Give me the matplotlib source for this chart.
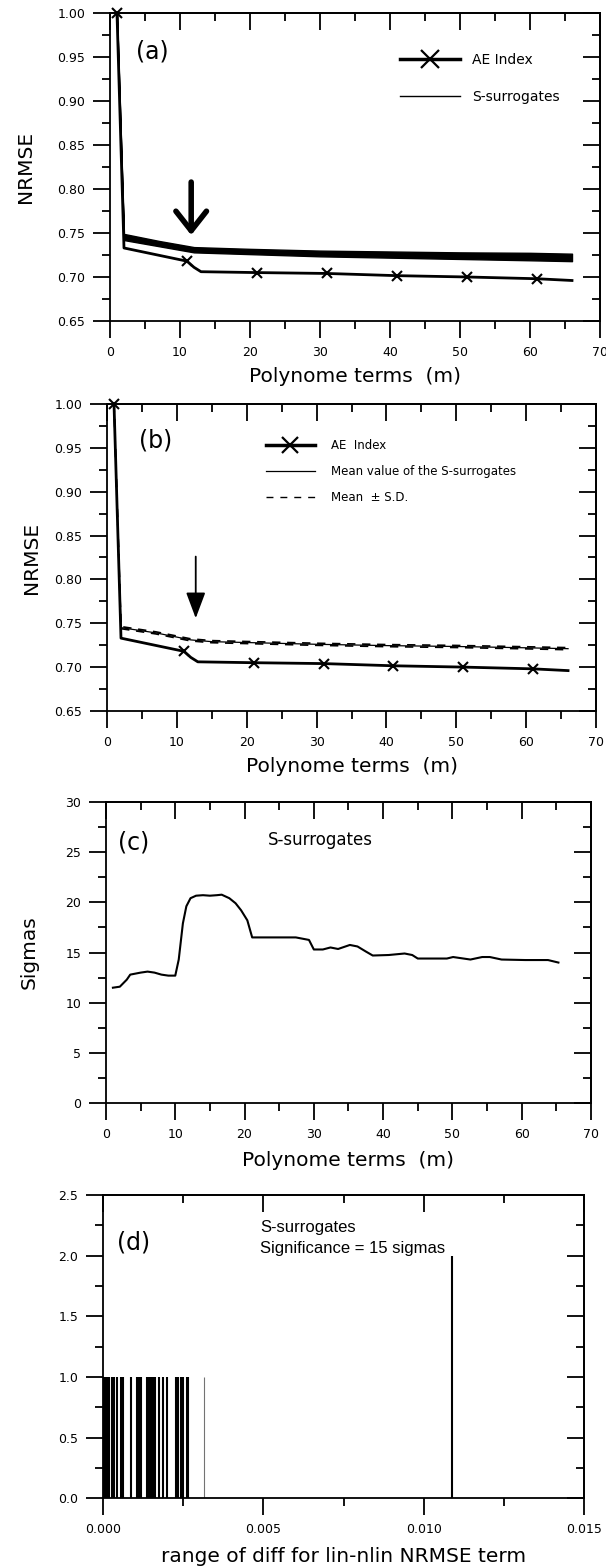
import matplotlib
matplotlib.use("Agg")
import matplotlib.pyplot as plt
from matplotlib.ticker import MultipleLocator, FormatStrFormatter
from matplotlib.lines import Line2D

plt.rcParams['font.family'] = ['DejaVu Sans']

# ---------------- data ----------------
# AE index NRMSE vs number of polynome terms (panels a, b)
m_ae = [1, 2, 11, 12, 13, 21, 31, 41, 51, 61, 66]
nrmse_ae = [1.0, 0.733, 0.718, 0.711, 0.706, 0.705, 0.704, 0.7015, 0.700, 0.698, 0.696]
ae_marker_idx = [0, 2, 5, 6, 7, 8, 9]

# S-surrogates envelope (panel a)
m_sur = [1, 2, 7, 12, 20, 30, 40, 50, 60, 66]
sur_upper = [1.0, 0.749, 0.741, 0.734, 0.732, 0.730, 0.729, 0.728, 0.7275, 0.7265]
sur_lower = [1.0, 0.742, 0.735, 0.728, 0.726, 0.7235, 0.722, 0.7205, 0.719, 0.718]

# mean and S.D. of surrogates (panel b)
m_mean = [1, 2, 7, 12, 15, 20, 30, 40, 50, 60, 66]
mean_sur = [1.0, 0.745, 0.739, 0.731, 0.729, 0.728, 0.726, 0.7245, 0.7235, 0.722, 0.721]
sd_sur = [0.0, 0.0012, 0.0012, 0.0012, 0.0012, 0.0012, 0.0012, 0.0012, 0.0012, 0.0012, 0.0012]

# significance in sigmas (panel c)
m_sig = [1, 2, 3, 3.5, 5, 6, 7, 8, 9, 10, 10.5, 11.1, 11.6, 12.2, 13, 14, 15, 16, 16.7,
         17.8, 18.7, 19.5, 20.4, 21.1, 24, 27.4, 29.3, 30, 31.3, 32.4, 33.5, 35.2, 36.3,
         37.5, 38.5, 40.8, 43.1, 44.2, 45, 49.2, 50.1, 52.6, 54.3, 55.4, 57.1, 60.5, 63.8, 65.3]
sigmas = [11.5, 11.6, 12.3, 12.8, 13.0, 13.1, 13.0, 12.8, 12.7, 12.7, 14.3, 17.9, 19.6, 20.4,
          20.65, 20.7, 20.65, 20.7, 20.75, 20.4, 19.9, 19.2, 18.2, 16.5, 16.5, 16.5, 16.25,
          15.3, 15.3, 15.5, 15.35, 15.75, 15.6, 15.1, 14.7, 14.75, 14.9, 14.75, 14.4, 14.4,
          14.55, 14.3, 14.55, 14.55, 14.3, 14.25, 14.25, 14.0]

# histogram of differences (panel d)
diff_x = [0.00002, 0.00006, 0.0001, 0.00014, 0.00018, 0.00027, 0.00035, 0.00043, 0.00055,
          0.00059, 0.00063, 0.00087, 0.00107, 0.00113, 0.00118, 0.00136, 0.0014, 0.00144,
          0.00148, 0.00152, 0.00156, 0.0016, 0.00163, 0.00175, 0.00186, 0.00198, 0.00228,
          0.00235, 0.00242, 0.0025, 0.00262, 0.00265, 0.01087]
diff_n = [1] * 32 + [2]
diff_x_faint = [0.00314]
diff_n_faint = [1]

# ---------------- figure ----------------
fig = plt.figure(figsize=(6.06, 15.67), dpi=100)
ax_a = fig.add_axes([0.1815, 0.7952, 0.8086, 0.1963])
ax_b = fig.add_axes([0.1766, 0.5463, 0.8069, 0.1959])
ax_c = fig.add_axes([0.1749, 0.2959, 0.8003, 0.1925])
ax_d = fig.add_axes([0.1700, 0.0438, 0.7937, 0.1936])

MAJ, MIN, W = 12.2, 5.8, 1.3


def style(ax, xlim, ylim, xmaj, xmin, ymaj, ymin, xfmt, yfmt):
    ax.set_xlim(*xlim)
    ax.set_ylim(*ylim)
    ax.xaxis.set_major_locator(MultipleLocator(xmaj))
    ax.xaxis.set_minor_locator(MultipleLocator(xmin))
    ax.yaxis.set_major_locator(MultipleLocator(ymaj))
    ax.yaxis.set_minor_locator(MultipleLocator(ymin))
    ax.xaxis.set_major_formatter(FormatStrFormatter(xfmt))
    ax.yaxis.set_major_formatter(FormatStrFormatter(yfmt))
    ax.tick_params(which='both', direction='out', top=False, right=False,
                   width=W, labelsize=9, pad=5.5)
    ax.tick_params(which='major', length=MAJ)
    ax.tick_params(which='minor', length=MIN)
    for s in ax.spines.values():
        s.set_linewidth(W)
    sx = ax.secondary_xaxis('top')
    sx.xaxis.set_major_locator(MultipleLocator(xmaj))
    sx.xaxis.set_minor_locator(MultipleLocator(xmin))
    sx.tick_params(which='both', direction='in', labeltop=False, width=W)
    sx.tick_params(which='major', length=MAJ)
    sx.tick_params(which='minor', length=MIN)
    sx.spines['top'].set_linewidth(W)
    sy = ax.secondary_yaxis('right')
    sy.yaxis.set_major_locator(MultipleLocator(ymaj))
    sy.yaxis.set_minor_locator(MultipleLocator(ymin))
    sy.tick_params(which='both', direction='in', labelright=False, width=W)
    sy.tick_params(which='major', length=MAJ)
    sy.tick_params(which='minor', length=MIN)
    sy.spines['right'].set_linewidth(W)


LABFS = 14.5

# ---- panel (a) ----
ax = ax_a
style(ax, (0, 70), (0.65, 1.0), 10, 5, 0.05, 0.025, '%d', '%.2f')
ax.fill_between(m_sur, sur_lower, sur_upper, color='black', lw=1.0, clip_on=False)
ax.plot(m_ae, nrmse_ae, color='black', lw=2.0, marker='x', ms=7, mew=1.5,
        markevery=ae_marker_idx, clip_on=False)
ax.annotate('', xy=(11.6, 0.7476), xytext=(11.6, 0.808),
            arrowprops=dict(arrowstyle='->,head_length=1.4,head_width=1.1', lw=4,
                            color='black', shrinkA=0, shrinkB=0, mutation_scale=10))
ax.text(0.086, 0.877, '(a)', transform=ax.transAxes, fontsize=17, ha='center', va='center')
h = [Line2D([], [], color='black', lw=2.5, marker='x', ms=13, mew=1.6),
     Line2D([], [], color='black', lw=1.0)]
ax.legend(h, ['AE Index', 'S-surrogates'], loc='upper left', bbox_to_anchor=(0.592, 0.87),
          frameon=False, fontsize=10, handlelength=4.3, handletextpad=0.86,
          labelspacing=1.6, borderpad=0, borderaxespad=0)
ax.set_xlabel('Polynome terms  (m)', fontsize=LABFS)
ax.xaxis.set_label_coords(0.5, -0.15)
ax.set_ylabel('NRMSE', fontsize=LABFS)
ax.yaxis.set_label_coords(-0.153, 0.5)

# ---- panel (b) ----
ax = ax_b
style(ax, (0, 70), (0.65, 1.0), 10, 5, 0.05, 0.025, '%d', '%.2f')
up = [m + s for m, s in zip(mean_sur, sd_sur)]
lo = [m - s for m, s in zip(mean_sur, sd_sur)]
ax.plot(m_mean, mean_sur, color='black', lw=0.9, clip_on=False)
ax.plot(m_mean, up, color='black', lw=1.2, ls=(0, (5, 4)))
ax.plot(m_mean, lo, color='black', lw=1.2, ls=(0, (5, 4)))
ax.plot(m_ae, nrmse_ae, color='black', lw=2.0, marker='x', ms=7, mew=1.5,
        markevery=ae_marker_idx, clip_on=False)
ax.annotate('', xy=(12.7, 0.7557), xytext=(12.7, 0.826),
            arrowprops=dict(arrowstyle='-|>,head_length=1.6,head_width=0.6', lw=1.3,
                            color='black', shrinkA=0, shrinkB=0, mutation_scale=10))
ax.text(0.100, 0.88, '(b)', transform=ax.transAxes, fontsize=17, ha='center', va='center')
h = [Line2D([], [], color='black', lw=2.5, marker='x', ms=12, mew=1.6),
     Line2D([], [], color='black', lw=0.9),
     Line2D([], [], color='black', lw=1.0, ls=(0, (5, 5)))]
ax.legend(h, ['AE  Index', 'Mean value of the S-surrogates', 'Mean  \u00b1 S.D.'],
          loc='upper left', bbox_to_anchor=(0.325, 0.885), frameon=False, fontsize=8.5,
          handlelength=4.15, handletextpad=1.36, labelspacing=1.1, borderpad=0,
          borderaxespad=0)
ax.set_xlabel('Polynome terms  (m)', fontsize=LABFS)
ax.xaxis.set_label_coords(0.5, -0.15)
ax.set_ylabel('NRMSE', fontsize=LABFS)
ax.yaxis.set_label_coords(-0.135, 0.5)

# ---- panel (c) ----
ax = ax_c
style(ax, (0, 70), (0, 30), 10, 5, 5, 2.5, '%d', '%d')
ax.plot(m_sig, sigmas, color='black', lw=1.5)
ax.text(0.058, 0.866, '(c)', transform=ax.transAxes, fontsize=17, ha='center', va='center')
ax.text(0.334, 0.873, 'S-surrogates', transform=ax.transAxes, fontsize=12,
        ha='left', va='center')
ax.set_xlabel('Polynome terms  (m)', fontsize=LABFS)
ax.xaxis.set_label_coords(0.5, -0.158)
ax.set_ylabel('Sigmas', fontsize=LABFS)
ax.yaxis.set_label_coords(-0.138, 0.5)

# ---- panel (d) ----
ax = ax_d
style(ax, (0, 0.015), (0, 2.5), 0.005, 0.0025, 0.5, 0.25, '%.3f', '%.1f')
ax.vlines(diff_x, 0, diff_n, colors='black', lw=1.5)
ax.vlines(diff_x_faint, 0, diff_n_faint, colors='0.45', lw=0.8)
ax.text(0.064, 0.842, '(d)', transform=ax.transAxes, fontsize=17, ha='center', va='center')
ax.text(0.326, 0.894, 'S-surrogates', transform=ax.transAxes, fontsize=12,
        family='Liberation Sans', ha='left', va='center')
ax.text(0.326, 0.825, 'Significance = 15 sigmas', transform=ax.transAxes, fontsize=12,
        family='Liberation Sans', ha='left', va='center')
ax.set_xlabel('range of diff for lin-nlin NRMSE term', fontsize=LABFS)
ax.xaxis.set_label_coords(0.5, -0.16)

fig.savefig('out.png', dpi=100)
